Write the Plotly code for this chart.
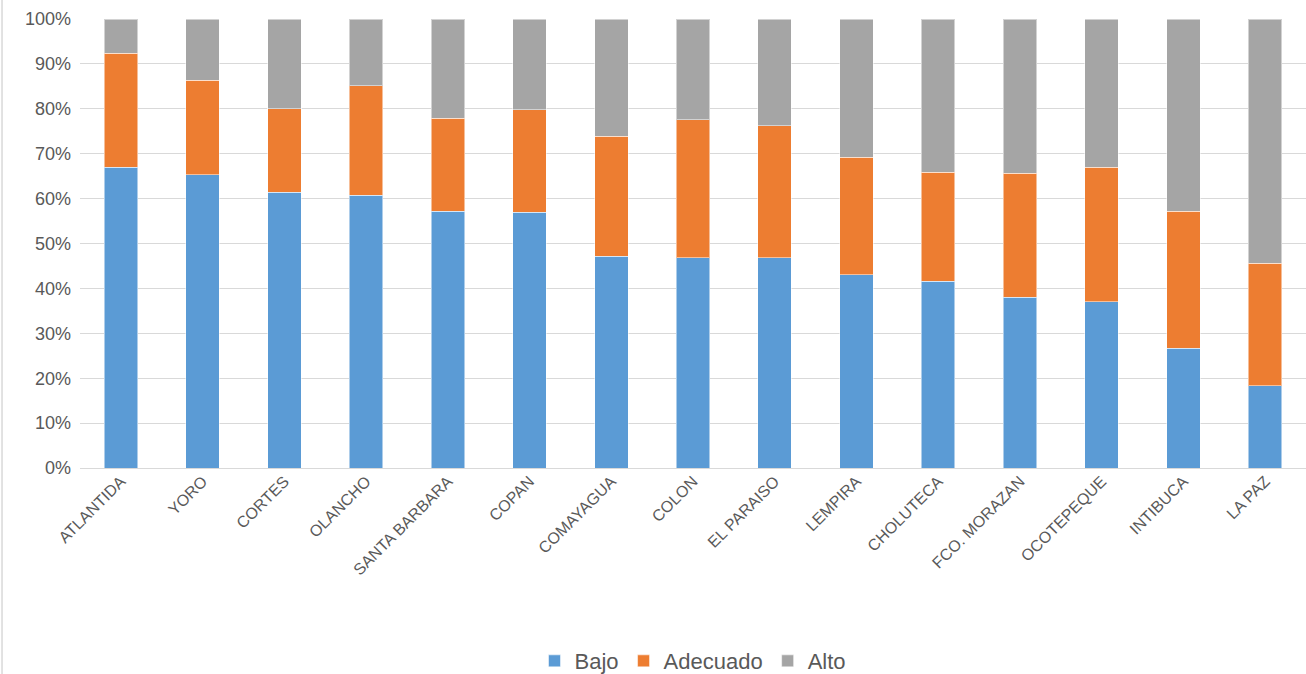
import plotly.graph_objects as go

categories = ["ATLANTIDA", "YORO", "CORTES", "OLANCHO", "SANTA BARBARA", "COPAN",
              "COMAYAGUA", "COLON", "EL PARAISO", "LEMPIRA", "CHOLUTECA",
              "FCO. MORAZAN", "OCOTEPEQUE", "INTIBUCA", "LA PAZ"]
bajo = [67.0, 65.3, 61.4, 60.8, 57.2, 57.0, 47.2, 46.8, 46.8, 43.0, 41.6, 38.0, 37.0, 26.7, 18.3]
bajo_adecuado_top = [92.4, 86.4, 80.0, 85.1, 77.9, 79.8, 73.9, 77.6, 76.2, 69.2, 65.9, 65.6, 67.0, 57.2, 45.6]
adecuado = [round(t - b, 1) for t, b in zip(bajo_adecuado_top, bajo)]
alto = [round(100 - t, 1) for t in bajo_adecuado_top]

colors = {"Bajo": "#5B9BD5", "Adecuado": "#ED7D31", "Alto": "#A5A5A5"}
font_family = "Liberation Sans Narrow, Liberation Sans, Arial, sans-serif"

fig = go.Figure()
for name, vals in [("Bajo", bajo), ("Adecuado", adecuado), ("Alto", alto)]:
    fig.add_trace(go.Bar(
        x=categories, y=vals, name=name,
        marker=dict(color=colors[name], line=dict(color="rgba(255,255,255,0.5)", width=1)),
    ))

fig.update_layout(
    barmode="stack",
    bargap=0.59,
    width=1306, height=674,
    margin=dict(l=80, r=0, t=19, b=206, autoexpand=False),
    plot_bgcolor="white", paper_bgcolor="white",
    font=dict(family=font_family, color="#595959"),
    legend=dict(orientation="h", x=0.5, xanchor="center", y=-0.43, yanchor="middle",
                font=dict(size=22, color="#595959"), traceorder="normal",
                itemwidth=30),
    yaxis=dict(range=[0, 100], dtick=10, ticksuffix="%", showgrid=True,
               gridcolor="#D9D9D9", gridwidth=1.3, zeroline=True, zerolinecolor="#D9D9D9",
               zerolinewidth=1.3, tickfont=dict(size=18, color="#595959"),
               ticks="", ticklabelstandoff=8, automargin=False),
    xaxis=dict(tickangle=-45, tickfont=dict(size=16, color="#595959"), showline=False,
               ticks="", automargin=False),
    showlegend=True,
)
fig.add_shape(type="line", xref="paper", yref="paper", x0=-0.0636, x1=-0.0636, y0=-0.5, y1=1.05,
              line=dict(color="#D9D9D9", width=1.5))

fig.write_html("out.html")
